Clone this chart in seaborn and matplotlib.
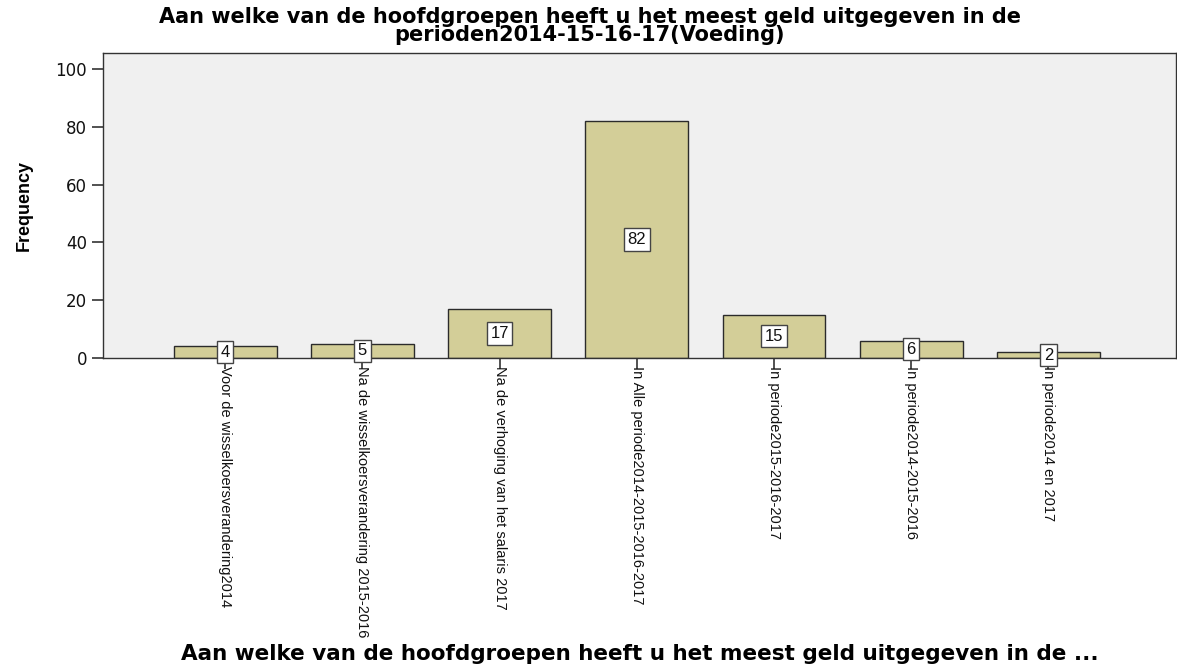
import numpy as np
import pandas as pd
import matplotlib
matplotlib.use("Agg")
import matplotlib.pyplot as plt
import seaborn as sns

# ── Data ──────────────────────────────────────────────────────────────────────
categories = [
    "Voor de wisselkoersverandering2014",
    "Na de wisselkoersverandering 2015-2016",
    "Na de verhoging van het salaris 2017",
    "In Alle periode2014-2015-2016-2017",
    "In periode2015-2016-2017",
    "In periode2014-2015-2016",
    "In periode2014 en 2017",
]
frequencies = [4, 5, 17, 82, 15, 6, 2]
y_ticks = [0, 20, 40, 60, 80, 100]

TITLE  = ("Aan welke van de hoofdgroepen heeft u het meest geld uitgegeven in de\n"
          "perioden2014-15-16-17(Voeding)")
XLABEL = "Aan welke van de hoofdgroepen heeft u het meest geld uitgegeven in de ..."

BAR_COLOR = "#D3CE98"
BG_COLOR  = "#F0F0F0"

# ── Plot ──────────────────────────────────────────────────────────────────────
sns.set_theme(style="white")
plt.rcParams["font.family"] = ["Liberation Sans", "DejaVu Sans"]
plt.rcParams["text.color"] = "black"
plt.rcParams["axes.labelcolor"] = "black"

df = pd.DataFrame({"category": categories, "freq": frequencies})

fig = plt.figure(figsize=(11.77, 6.68), dpi=100)
ax = fig.add_axes([103 / 1177, 1 - 358 / 668, (1176 - 103) / 1177, (358 - 53) / 668])

sns.barplot(data=df, x="category", y="freq", color=BAR_COLOR, width=0.75,
            edgecolor="#2b2b2b", linewidth=1.0, saturation=1, ax=ax)

ax.set_facecolor(BG_COLOR)
ax.set_xlim(-0.89, 6.93)
ax.set_ylim(0, 105.5)
ax.set_yticks(y_ticks)
ax.set_yticklabels([str(t) for t in y_ticks], fontsize=12, color="#111111",
                   family="DejaVu Sans")

for sp in ax.spines.values():
    sp.set_visible(True)
    sp.set_color("#333333")
    sp.set_linewidth(1.0)

ax.tick_params(axis="both", direction="out", length=8, width=1.2, color="#333333",
               bottom=True, left=True)
ax.tick_params(axis="x", pad=-2)

ax.set_xticks(range(len(categories)))
ax.set_xticklabels(categories, rotation=270, ha="center", va="top",
                   fontsize=10.5, color="#111111")

# value labels in white boxes, halfway up each bar
for i, v in enumerate(frequencies):
    ax.text(i, v / 2, str(v), ha="center", va="center", fontsize=12,
            color="#111111",
            bbox=dict(boxstyle="square,pad=0.22", fc="white", ec="#444444", lw=1.0))

ax.set_xlabel("")
ax.set_ylabel("Frequency", fontsize=13, fontweight="bold", labelpad=16)

fig.text(590 / 1177, 1 - 26 / 668, TITLE, ha="center", va="center",
         fontsize=15, fontweight="bold", family="DejaVu Sans", linespacing=0.88)
fig.text(640 / 1177, 1 - 654 / 668, XLABEL, ha="center", va="center",
         fontsize=15.5, fontweight="bold", family="DejaVu Sans")

fig.savefig("out.png", dpi=100, facecolor="white")
